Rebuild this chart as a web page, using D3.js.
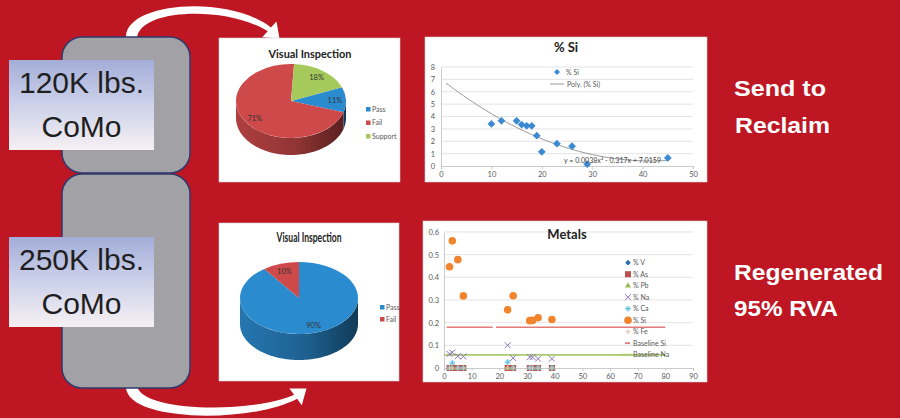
<!DOCTYPE html>
<html><head><meta charset="utf-8">
<script src="https://cdn.jsdelivr.net/npm/d3@7"></script>
<style>body{margin:0;background:#BE1622}svg{display:block}</style>
</head><body>
<svg id="c" width="900" height="418"></svg>
<script>
// ---------- DATA ----------
const pie1Labels = ["Pass", "Fail", "Support"];
const pie1Values = [11, 71, 18];
const pie2Labels = ["Pass", "Fail"];
const pie2Values = [90, 10];

const siX = [10, 12, 15, 16, 17, 18, 19, 20, 23, 26, 29, 45];
const siY = [3.4, 3.65, 3.65, 3.35, 3.25, 3.25, 2.45, 1.15, 1.8, 1.6, 0.15, 0.65];
const polyCoef = [7.0159, -0.317, 0.0038]; // y = c0 + c1 x + c2 x^2 (trend line shown on chart)
const trendX = [1, 45];
const siXTicks = [0, 10, 20, 30, 40, 50];
const siYTicks = [0, 1, 2, 3, 4, 5, 6, 7, 8];

const metalX = [2, 3, 5, 7, 23, 25, 31, 32, 34, 39];
const metalV  = [0, 0, 0, 0, 0, 0, 0, 0, 0, 0];
const metalAs = [0, 0, 0, 0, 0, 0, 0, 0, 0, 0];
const metalPb = [0, 0, 0, 0, 0, 0, 0, 0, 0, 0];
const metalNa = [0.062, 0.068, 0.052, 0.051, 0.1, 0.044, 0.048, 0.048, 0.041, 0.041];
const metalCa = [0, 0.022, 0, 0, 0.026, 0, 0, 0, 0, 0];
const metalSi = [0.447, 0.561, 0.478, 0.318, 0.257, 0.319, 0.209, 0.21, 0.222, 0.214];
const metalFe = [0, 0, 0, 0, 0, 0, 0, 0, 0, 0];
const baselineSi = 0.18;
const baselineSiSegments = [[1, 17.6], [18.8, 80]];
const baselineNa = 0.058;
const baselineNaRange = [0, 80];
const metalXTicks = [0, 10, 20, 30, 40, 50, 60, 70, 80, 90];
const metalYTicks = [0, 0.1, 0.2, 0.3, 0.4, 0.5, 0.6];
const metalLegend = ["% V", "% As", "% Pb", "% Na", "% Ca", "% Si", "% Fe", "Baseline Si", "Baseline Na"];

// ---------- STYLE ----------
const RED_BG = "#BE1622";
const pieColors = {Pass: "#2B8BCF", Fail: "#CE4A4A", Support: "#A5C95B"};
const chartFont = "Lato, 'Open Sans', sans-serif";
const grey = "#595959";

const svg = d3.select("#c");
const defs = svg.append("defs");
svg.append("rect").attr("width", 900).attr("height", 418).attr("fill", RED_BG);

// ---------- ARROWS ----------
svg.append("path").attr("fill", "#fff")
  .attr("d", "M126,38 C124,2 228,-6 270.9,27.5 L276.5,21.4 L279.5,38.5 L262.2,37.2 L267.7,31.3 C228,6 140,8 137,38 Z");
svg.append("path").attr("fill", "#fff")
  .attr("d", "M126,386 C124,422 250,424 297.1,398.8 L301.8,405.2 L306.5,388.5 L289.4,388.6 L294.1,394.8 C250,414 142,412 137,386 Z");

// ---------- LEFT BLOCKS ----------
svg.append("rect").attr("x", 62).attr("y", 37).attr("width", 128).attr("height", 136).attr("rx", 20)
  .attr("fill", "#A2A2A6").attr("stroke", "#2E3A6E").attr("stroke-width", 1.5);
svg.append("rect").attr("x", 62).attr("y", 174).attr("width", 128).attr("height", 214).attr("rx", 20)
  .attr("fill", "#A2A2A6").attr("stroke", "#2E3A6E").attr("stroke-width", 1.5);

const lg = defs.append("linearGradient").attr("id", "lbl").attr("x1", 0).attr("y1", 0).attr("x2", 0).attr("y2", 1);
lg.append("stop").attr("offset", 0).attr("stop-color", "#A3ADD8");
lg.append("stop").attr("offset", 0.5).attr("stop-color", "#CDD2EA");
lg.append("stop").attr("offset", 1).attr("stop-color", "#F6F0F3");

function labelBox(y, l1, l2) {
  svg.append("rect").attr("x", 9).attr("y", y).attr("width", 145).attr("height", 90).attr("fill", "url(#lbl)");
  svg.append("text").attr("x", 81.5).attr("y", y + 33).attr("text-anchor", "middle")
    .attr("font-family", "'Liberation Sans', Arial, sans-serif").attr("font-size", 30).attr("fill", "#1f1f1f").text(l1);
  svg.append("text").attr("x", 81.5).attr("y", y + 77).attr("text-anchor", "middle")
    .attr("font-family", "'Liberation Sans', Arial, sans-serif").attr("font-size", 30).attr("fill", "#1f1f1f").text(l2);
}
labelBox(60, "120K lbs.", "CoMo");
labelBox(237, "250K lbs.", "CoMo");

// ---------- RIGHT TEXT ----------
function bigText(x, y, t, len) {
  svg.append("text").attr("x", x).attr("y", y).attr("fill", "#fff")
    .attr("font-family", "'Liberation Sans', Arial, sans-serif").attr("font-weight", "bold")
    .attr("font-size", 22).attr("textLength", len).attr("lengthAdjust", "spacingAndGlyphs").text(t);
}
bigText(734, 96, "Send to", 92);
bigText(735, 133, "Reclaim", 95);
bigText(734, 280, "Regenerated", 149);
bigText(734, 316, "95% RVA", 104);

// ---------- PANELS ----------
function panel(x, y, w, h) {
  svg.append("rect").attr("x", x).attr("y", y).attr("width", w).attr("height", h)
    .attr("fill", "#fff").attr("stroke", "#d0d0d0").attr("stroke-width", 0.6);
}
panel(219, 38, 181, 144);
panel(425, 37, 282, 145);
panel(219, 223, 180, 158);
panel(423, 221, 284, 161);

// diamond = rotated square
const diamond = (s, px, py, size, fill) => s.append("path")
  .attr("transform", `translate(${px},${py}) rotate(45)`).attr("d", d3.symbol(d3.symbolSquare, size)).attr("fill", fill);

// ---------- 3D PIE ----------
function pie3d(id, labels, values, o) {
  const g = svg.append("g");
  const data = labels.map((l, i) => ({label: l, v: values[i]}));
  const arcs = d3.pie().sort(null).value(d => d.v)
    .startAngle(o.start).endAngle(o.start + 2 * Math.PI)(data);
  const pt = (a, dy = 0) => [o.cx + o.rx * Math.sin(a), o.cy - o.ry * Math.cos(a) + dy];
  arcs.forEach((a, i) => {
    const c = pieColors[a.data.label];
    const gid = id + "g" + i;
    const gr = defs.append("linearGradient").attr("id", gid).attr("gradientUnits", "userSpaceOnUse")
      .attr("x1", o.cx - o.rx).attr("x2", o.cx + o.rx).attr("y1", 0).attr("y2", 0);
    gr.append("stop").attr("offset", 0).attr("stop-color", d3.color(c).darker(0.45));
    gr.append("stop").attr("offset", 0.55).attr("stop-color", d3.color(c).darker(1.0));
    gr.append("stop").attr("offset", 1).attr("stop-color", d3.color(c).darker(2.4));
    for (let k = -1; k <= 2; k++) {
      const lo = Math.max(a.startAngle, Math.PI / 2 + 2 * Math.PI * k);
      const hi = Math.min(a.endAngle, 3 * Math.PI / 2 + 2 * Math.PI * k);
      if (hi > lo) {
        const n = Math.max(2, Math.ceil((hi - lo) / 0.02));
        const top = [], bot = [];
        for (let j = 0; j <= n; j++) {
          const an = lo + (hi - lo) * j / n;
          top.push(pt(an)); bot.push(pt(an, o.h));
        }
        g.append("path").attr("fill", `url(#${gid})`)
          .attr("d", "M" + top.join("L") + "L" + bot.reverse().join("L") + "Z");
      }
    }
  });
  const face = g.append("g").attr("transform", `translate(${o.cx},${o.cy}) scale(1,${o.ry / o.rx})`);
  const arc = d3.arc().innerRadius(0).outerRadius(o.rx);
  face.selectAll("path").data(arcs).join("path").attr("d", arc)
    .attr("fill", d => pieColors[d.data.label]);
  const total = d3.sum(values);
  const mid = d => (d.startAngle + d.endAngle) / 2;
  g.selectAll("text.pl").data(arcs).join("text").attr("class", "pl")
    .attr("x", d => o.cx + o.rx * 0.8 * Math.sin(mid(d)))
    .attr("y", d => o.cy - o.ry * 0.8 * Math.cos(mid(d)) + 3)
    .attr("text-anchor", "middle").attr("font-family", chartFont).attr("font-size", 7.5).attr("fill", "#333")
    .text(d => Math.round(d.data.v / total * 100) + "%");
  svg.append("text").attr("x", o.tx).attr("y", o.ty).attr("text-anchor", "middle")
    .attr("font-family", chartFont).attr("font-weight", "bold").attr("font-size", o.tsize).attr("fill", "#222")
    .attr("textLength", o.tlen).attr("lengthAdjust", "spacingAndGlyphs").text("Visual Inspection");
  labels.forEach((l, i) => {
    svg.append("rect").attr("x", o.lx).attr("y", o.ly + i * o.lstep - 4).attr("width", 4.5).attr("height", 4.5)
      .attr("fill", pieColors[l]);
    svg.append("text").attr("x", o.lx + 6).attr("y", o.ly + i * o.lstep + 0.5)
      .attr("font-family", chartFont).attr("font-size", 7).attr("fill", grey).text(l);
  });
}
pie3d("p1", pie1Labels, pie1Values, {cx: 291, cy: 101, rx: 55, ry: 37, h: 17, start: 68 * Math.PI / 180,
  tx: 310, ty: 58, tsize: 12, tlen: 83, lx: 366, ly: 111, lstep: 13.5});
pie3d("p2", pie2Labels, pie2Values, {cx: 299, cy: 298, rx: 59, ry: 36, h: 26, start: 0,
  tx: 309, ty: 242, tsize: 12.5, tlen: 65, lx: 380, ly: 309, lstep: 12});

// ---------- % Si SCATTER ----------
{
  const x = d3.scaleLinear().domain([0, 50]).range([441, 693]);
  const y = d3.scaleLinear().domain([0, 8]).range([166, 67]);
  const g = svg.append("g");
  g.selectAll("line.gr").data(siYTicks.slice(1)).join("line")
    .attr("x1", x(0)).attr("x2", x(50)).attr("y1", d => y(d)).attr("y2", d => y(d))
    .attr("stroke", "#D9D9D9").attr("stroke-width", 0.7);
  const ax = g.append("g").attr("transform", `translate(0,${y(0)})`)
    .call(d3.axisBottom(x).tickValues(siXTicks).tickSize(3).tickPadding(3));
  const ay = g.append("g").attr("transform", `translate(${x(0)},0)`)
    .call(d3.axisLeft(y).tickValues(siYTicks).tickSize(0).tickPadding(6));
  [ax, ay].forEach(a => {
    a.selectAll("path,line").attr("stroke", "#BFBFBF").attr("stroke-width", 0.8);
    a.selectAll("text").attr("font-family", chartFont).attr("font-size", 7.5).attr("fill", grey);
  });
  const tx = d3.range(trendX[0], trendX[1] + 0.01, 0.5);
  g.append("path").attr("fill", "none").attr("stroke", "#7F7F7F").attr("stroke-width", 0.8)
    .attr("d", d3.line().x(d => x(d)).y(d => y(polyCoef[0] + polyCoef[1] * d + polyCoef[2] * d * d))(tx));
  siX.forEach((d, i) => diamond(g, x(d), y(siY[i]), 30, "#3A8AD4"));
  g.append("text").attr("x", 566).attr("y", 52).attr("text-anchor", "middle")
    .attr("font-family", chartFont).attr("font-weight", "bold").attr("font-size", 13).attr("fill", "#222").text("% Si");
  diamond(g, 557, 72, 18, "#3A8AD4");
  g.append("text").attr("x", 566).attr("y", 74.5).attr("font-family", chartFont).attr("font-size", 7).attr("fill", grey).text("% Si");
  g.append("line").attr("x1", 550).attr("x2", 564).attr("y1", 84).attr("y2", 84).attr("stroke", "#7F7F7F").attr("stroke-width", 0.8);
  g.append("text").attr("x", 567).attr("y", 86.5).attr("font-family", chartFont).attr("font-size", 7).attr("fill", grey).text("Poly. (% Si)");
  g.append("text").attr("x", 564).attr("y", 163).attr("font-family", chartFont).attr("font-size", 7).attr("fill", "#404040")
    .attr("textLength", 97).attr("lengthAdjust", "spacingAndGlyphs")
    .text("y = " + polyCoef[2] + "x² - " + Math.abs(polyCoef[1]) + "x + " + polyCoef[0]);
}

// ---------- METALS ----------
{
  const x = d3.scaleLinear().domain([0, 90]).range([444, 693]);
  const y = d3.scaleLinear().domain([0, 0.6]).range([368, 232]);
  const g = svg.append("g");
  g.selectAll("line.gr").data(metalYTicks.slice(1)).join("line")
    .attr("x1", x(0)).attr("x2", x(90)).attr("y1", d => y(d)).attr("y2", d => y(d))
    .attr("stroke", "#D9D9D9").attr("stroke-width", 0.7);
  const ax = g.append("g").attr("transform", `translate(0,${y(0)})`)
    .call(d3.axisBottom(x).tickValues(metalXTicks).tickSize(3).tickPadding(3));
  const ay = g.append("g").attr("transform", `translate(${x(0)},0)`)
    .call(d3.axisLeft(y).tickValues(metalYTicks).tickSize(0).tickPadding(5).tickFormat(d => d === 0 ? "0" : d3.format(".1f")(d)));
  [ax, ay].forEach(a => {
    a.selectAll("path,line").attr("stroke", "#BFBFBF").attr("stroke-width", 0.8);
    a.selectAll("text").attr("font-family", chartFont).attr("font-size", 7.5).attr("fill", grey);
  });
  g.append("text").attr("x", 567).attr("y", 239).attr("text-anchor", "middle")
    .attr("font-family", chartFont).attr("font-weight", "bold").attr("font-size", 13).attr("fill", "#222").text("Metals");

  baselineSiSegments.forEach(s => {
    g.append("line").attr("x1", x(s[0])).attr("x2", x(s[1])).attr("y1", y(baselineSi)).attr("y2", y(baselineSi))
      .attr("stroke", "#E37A7A").attr("stroke-width", 1.6);
  });
  g.append("line").attr("x1", x(baselineNaRange[0])).attr("x2", x(baselineNaRange[1]))
    .attr("y1", y(baselineNa)).attr("y2", y(baselineNa)).attr("stroke", "#A9CB6B").attr("stroke-width", 1.8);

  const mk = {
    V: (s, px, py) => diamond(s, px, py, 16, "#2E6DB4"),
    As: (s, px, py) => s.append("rect").attr("x", px - 3).attr("y", py - 3).attr("width", 6).attr("height", 6).attr("fill", "#C0504D"),
    Pb: (s, px, py) => s.append("path").attr("transform", `translate(${px},${py})`).attr("d", d3.symbol(d3.symbolTriangle, 16)).attr("fill", "#9BBB59"),
    Na: (s, px, py) => s.append("path").attr("d", `M${px - 3},${py - 3}L${px + 3},${py + 3}M${px - 3},${py + 3}L${px + 3},${py - 3}`).attr("stroke", "#8C74BE").attr("stroke-width", 1),
    Ca: (s, px, py) => s.append("path").attr("d", `M${px - 3},${py}L${px + 3},${py}M${px},${py - 3}L${px},${py + 3}M${px - 2},${py - 2}L${px + 2},${py + 2}M${px - 2},${py + 2}L${px + 2},${py - 2}`).attr("stroke", "#5BC0DE").attr("stroke-width", 1),
    Si: (s, px, py) => s.append("circle").attr("cx", px).attr("cy", py).attr("r", 3.8).attr("fill", "#F0852D"),
    Fe: (s, px, py) => s.append("path").attr("d", `M${px - 2.5},${py}L${px + 2.5},${py}M${px},${py - 2.5}L${px},${py + 2.5}`).attr("stroke", "#E6B9B8").attr("stroke-width", 1)
  };
  const series = [["V", metalV], ["As", metalAs], ["Pb", metalPb], ["Ca", metalCa], ["Fe", metalFe], ["Na", metalNa], ["Si", metalSi]];
  series.forEach(([k, vals]) => {
    metalX.forEach((mx, i) => mk[k](g, x(mx), y(vals[i])));
  });
  const keys = ["V", "As", "Pb", "Na", "Ca", "Si", "Fe"];
  metalLegend.forEach((t, i) => {
    const ly = 262.7 + i * 11.5;
    if (i < 7) mk[keys[i]](g, 628, ly);
    else g.append("line").attr("x1", i === 7 ? 625 : 620).attr("x2", i === 7 ? 630 : 632).attr("y1", ly).attr("y2", ly)
      .attr("stroke", i === 7 ? "#E37A7A" : "#A9CB6B").attr("stroke-width", 1.8);
    g.append("text").attr("x", 633).attr("y", ly + 2.5).attr("font-family", chartFont).attr("font-size", 7)
      .attr("fill", grey).text(t);
  });
}
</script>
</body></html>
